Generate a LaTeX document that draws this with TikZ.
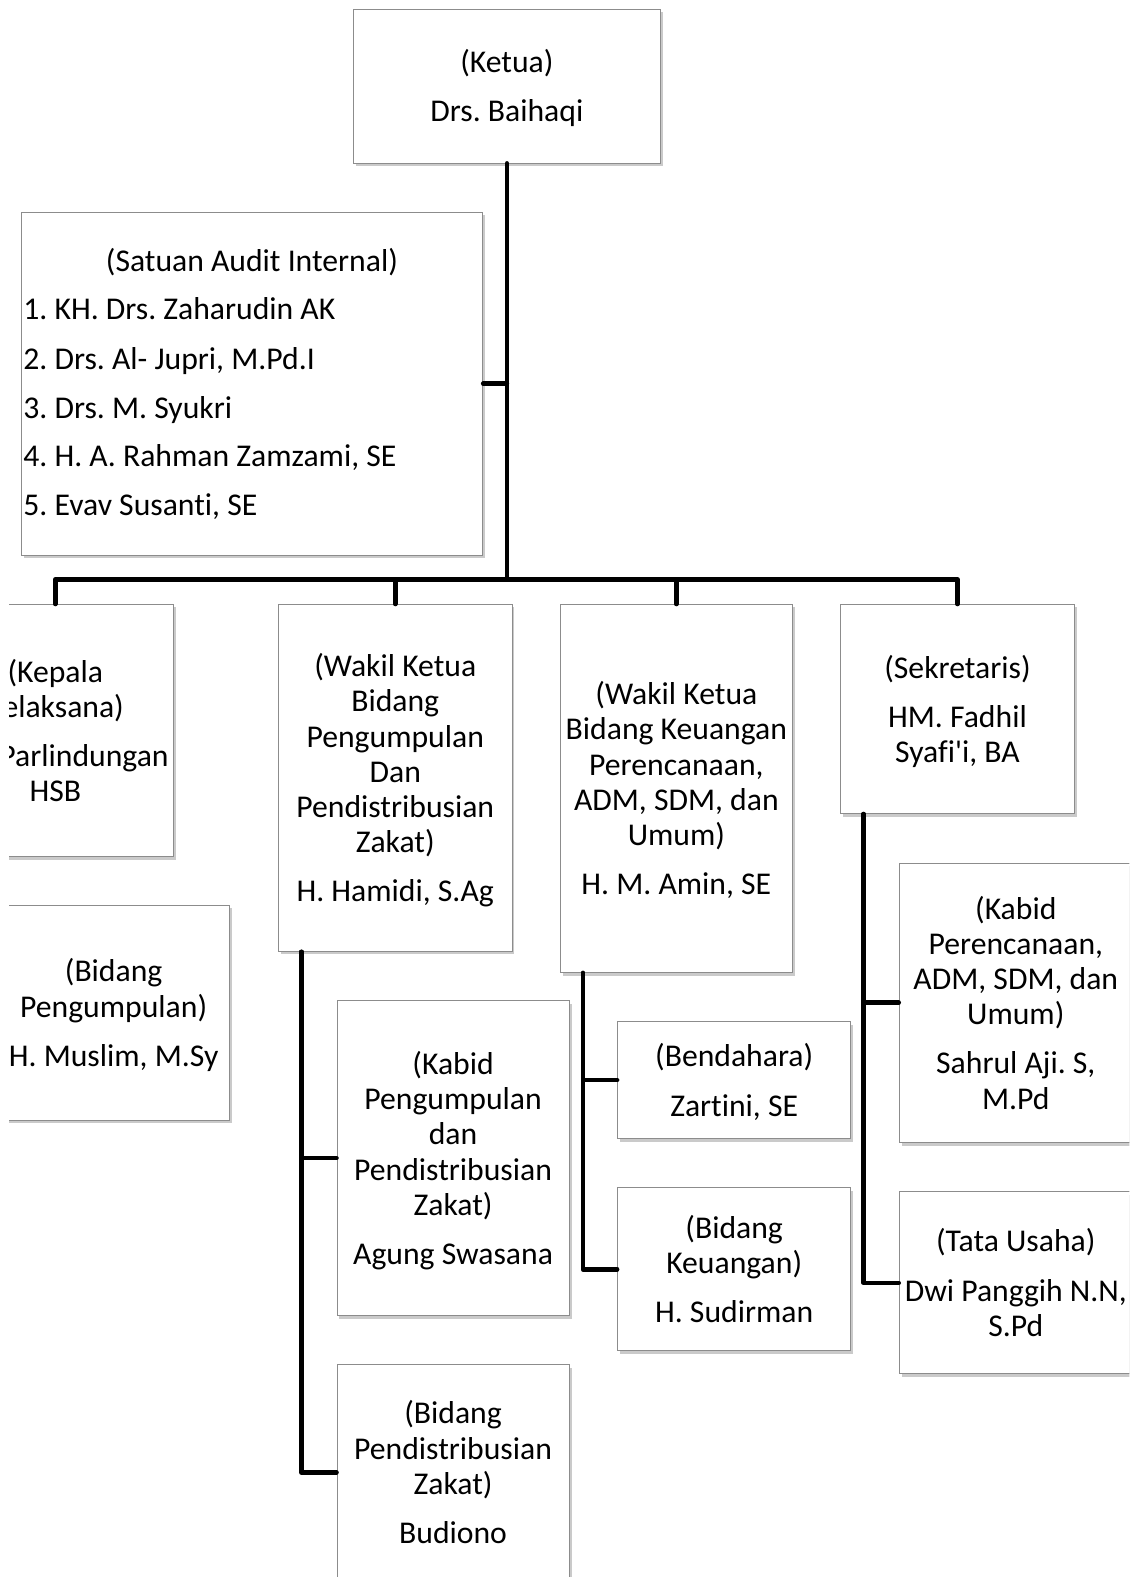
\documentclass[tikz,border=0pt]{standalone}
\usepackage{fontspec}
\setmainfont{Carlito}[Ligatures={TeXOff,NoCommon}]
\usetikzlibrary{shadows,calc}
\frenchspacing
\newcommand{\topst}{\rule{0pt}{33pt}}
\tikzset{
  box/.style={draw=black!45, line width=0.8pt, fill=white, inner sep=0pt,
    align=center, font=\fontsize{31.5}{35}\selectfont\frenchspacing,
    drop shadow={shadow xshift=2.5pt, shadow yshift=-3pt, opacity=0.35, fill=black!60}},
  link/.style={line width=4.5pt, line join=round, line cap=round},
  itemtxt/.style={anchor=base west, inner sep=0pt, font=\fontsize{31.5}{35}\selectfont\frenchspacing}
}
\begin{document}
\begin{tikzpicture}[x=1pt,y=-1pt]
\useasboundingbox (0,0) rectangle (1123,1568);
\clip (9,0) rectangle (1123,1568);
% boxes
\node[box, minimum width=306pt, minimum height=153pt] (ketua) at (504,85.5) {\topst(Ketua)\\[14pt]Drs. Baihaqi\strut};
\node[box, minimum width=459pt, minimum height=341pt] (audit) at (250.5,381.5) {};
\node[inner sep=0pt, anchor=base, font=\fontsize{31.5}{35}\selectfont] (auditT) at (250.5,270) {(Satuan Audit Internal)};
\node[itemtxt] (a1) at (23,318) {1. KH. Drs. Zaharudin AK};
\node[itemtxt] (a2) at (23,367) {2. Drs. Al- Jupri, M.Pd.I};
\node[itemtxt] (a3) at (23,416) {3. Drs. M. Syukri};
\node[itemtxt] (a4) at (23,464) {4. H. A. Rahman Zamzami, SE};
\node[itemtxt] (a5) at (23,513) {5. Evav Susanti, SE};

\node[box, minimum width=234pt, minimum height=251pt] (kepala) at (55,726.5) {\topst(Kepala\\Pelaksana)\\[14pt]Drs. Parlindungan\\HSB\strut};
\node[box, minimum width=230pt, minimum height=214pt] (bpeng) at (113,1007) {\topst(Bidang\\Pengumpulan)\\[14pt]H. Muslim, M.Sy\strut};
\node[box, minimum width=232pt, minimum height=345pt] (wk1) at (393,773.5) {\topst(Wakil Ketua\\Bidang\\Pengumpulan\\Dan\\Pendistribusian\\Zakat)\\[14pt]H. Hamidi, S.Ag\strut};
\node[box, minimum width=231pt, minimum height=366pt] (wk2) at (672.5,784) {\topst(Wakil Ketua\\Bidang Keuangan\\Perencanaan,\\ADM, SDM, dan\\Umum)\\[14pt]H. M. Amin, SE\strut};
\node[box, minimum width=232pt, minimum height=208pt] (sek) at (952,705) {\topst(Sekretaris)\\[14pt]HM. Fadhil\\Syafi'i, BA\strut};

\node[box, minimum width=231pt, minimum height=313pt] (kpeng) at (450.5,1151.5) {\topst(Kabid\\Pengumpulan\\dan\\Pendistribusian\\Zakat)\\[14pt]Agung Swasana\strut};
\node[box, minimum width=231pt, minimum height=214pt] (bdist) at (450.5,1464) {\topst(Bidang\\Pendistribusian\\Zakat)\\[14pt]Budiono\strut};
\node[box, minimum width=232pt, minimum height=116pt] (bend) at (730,1074) {\topst(Bendahara)\\[14pt]Zartini, SE\strut};
\node[box, minimum width=232pt, minimum height=162pt] (bkeu) at (730,1262) {\topst(Bidang\\Keuangan)\\[14pt]H. Sudirman\strut};
\node[box, minimum width=232pt, minimum height=278pt] (kper) at (1010,997) {\topst(Kabid\\Perencanaan,\\ADM, SDM, dan\\Umum)\\[14pt]Sahrul Aji. S,\\M.Pd\strut};
\node[box, minimum width=232pt, minimum height=181pt] (tu) at (1010,1275.5) {\topst(Tata Usaha)\\[14pt]Dwi Panggih N.N,\\S.Pd\strut};

% connectors
\coordinate (bus) at (504,576);
\draw[link] (ketua.south) -- (ketua.south |- bus);
\draw[link] (audit.east) -- (audit.east -| ketua.south);
\draw[link] (kepala.north) -- (kepala.north |- bus) -- (sek.north |- bus) -- (sek.north);
\draw[link] (wk1.north) -- (wk1.north |- bus);
\draw[link] (wk2.north) -- (wk2.north |- bus);

\coordinate (c1) at ($(wk1.south west)+(23,0)$);
\draw[link] (c1) |- (bdist.west);
\draw[link] (c1) |- (kpeng.west);

\coordinate (c2) at ($(wk2.south west)+(23,0)$);
\draw[link] (c2) |- (bkeu.west);
\draw[link] (c2) |- (bend.west);

\coordinate (c3) at ($(sek.south west)+(23,0)$);
\draw[link] (c3) |- (tu.west);
\draw[link] (c3) |- (kper.west);
\end{tikzpicture}
\end{document}
